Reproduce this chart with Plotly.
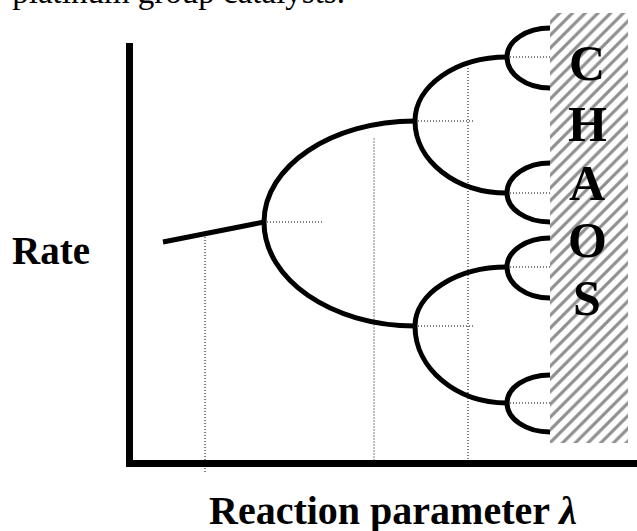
import plotly.graph_objects as go

W, H = 637, 531

# ---- data (lambda = reaction parameter, rate) ----
# stable branch before the first period doubling
branch0_lam = [0.67, 2.69]
branch0_rate = [4.43, 4.83]

# bifurcation points (lambda, rate) and where their two branches end
bif_lam = [2.69, 5.71, 5.71, 7.55, 7.55, 7.55, 7.55]
bif_rate = [4.83, 6.85, 2.75, 8.13, 5.41, 3.93, 1.21]
branch_end_lam = [5.71, 7.55, 7.55, 8.41, 8.41, 8.41, 8.41]
upper_end_rate = [6.85, 8.13, 3.93, 8.71, 6.01, 4.51, 1.77]
lower_end_rate = [2.75, 5.41, 1.21, 7.51, 4.83, 3.31, 0.63]
# dotted guide from each bifurcation point (end lambda)
guide_end_lam = [3.87, 6.87, 6.87, 8.41, 8.41, 8.41, 8.41]

# vertical dotted markers on the lambda axis
marker_lam = [1.51, 4.89, 6.77]
marker_top = [4.53, 6.50, 7.91]
marker_bottom = [-0.17, 0.03, 0.03]

# chaotic region
chaos_lam = [8.41, 9.97]
chaos_rate = [0.41, 9.01]
chaos_letters = ["C", "H", "A", "O", "S"]
chaos_letter_rate = [8.01, 6.79, 5.61, 4.47, 3.31]
chaos_letter_lam = 9.15

# axes frame
axis_lam_max = 10.15
axis_rate_max = 8.41

X_RANGE = [-2.59, 10.15]
Y_RANGE = [-1.35, 9.27]

SERIF = "Liberation Serif, Times New Roman, serif"

fig = go.Figure()
shapes = []

def line_shape(x0, y0, x1, y1, width, dash=None, layer="below"):
    d = dict(type="line", xref="x", yref="y", x0=x0, y0=y0, x1=x1, y1=y1,
             line=dict(color="black", width=width), layer=layer)
    if dash:
        d["line"]["dash"] = dash
    return d

DOT = "1px,2px"

# dotted guides
for lx, lt, lb in zip(marker_lam, marker_top, marker_bottom):
    shapes.append(line_shape(lx, lt, lx, lb, 1, DOT))
for bx, by, gx in zip(bif_lam, bif_rate, guide_end_lam):
    shapes.append(line_shape(bx, by, gx, by, 1, DOT))

# main branch
shapes.append(line_shape(branch0_lam[0], branch0_rate[0], branch0_lam[1], branch0_rate[1], 5))

# period-doubling arcs (quarter-ellipse shaped cubic Beziers)
K = 0.5523
for bx, by, ex, yu, yl in zip(bif_lam, bif_rate, branch_end_lam, upper_end_rate, lower_end_rate):
    for ey in (yu, yl):
        dx = ex - bx
        dy = ey - by
        path = (f"M {bx},{by} C {bx},{by + K * dy} {ex - K * dx},{ey} {ex},{ey}")
        shapes.append(dict(type="path", xref="x", yref="y", path=path,
                           line=dict(color="black", width=5), layer="below"))

# axis frame (L shape)
shapes.append(line_shape(0, axis_rate_max, 0, -0.07, 7))
shapes.append(line_shape(-0.07, 0, axis_lam_max, 0, 7))

# hatched chaos region
fig.add_trace(go.Scatter(
    x=[chaos_lam[0], chaos_lam[1], chaos_lam[1], chaos_lam[0], chaos_lam[0]],
    y=[chaos_rate[0], chaos_rate[0], chaos_rate[1], chaos_rate[1], chaos_rate[0]],
    mode="lines", fill="toself", fillcolor="white",
    fillpattern=dict(shape="/", fgcolor="#8f8f8f", bgcolor="white",
                     size=9, solidity=0.35, fillmode="replace"),
    line=dict(width=0, color="rgba(0,0,0,0)"),
    hoverinfo="skip", showlegend=False))

annotations = []
for letter, ry in zip(chaos_letters, chaos_letter_rate):
    annotations.append(dict(x=chaos_letter_lam, y=ry, xref="x", yref="y",
                            text=f"<b>{letter}</b>", showarrow=False,
                            xanchor="center", yanchor="middle",
                            font=dict(family=SERIF, size=50, color="black")))

def px(x):
    return x / W

def py(y):
    return 1 - y / H

annotations.append(dict(x=px(51), y=py(250), xref="paper", yref="paper",
                        text="<b>Rate</b>", showarrow=False,
                        xanchor="center", yanchor="middle",
                        font=dict(family=SERIF, size=39, color="black")))
annotations.append(dict(x=px(393), y=py(510), xref="paper", yref="paper",
                        text="<b>Reaction parameter <i>λ</i></b>", showarrow=False,
                        xanchor="center", yanchor="middle",
                        font=dict(family=SERIF, size=40, color="black")))
annotations.append(dict(x=px(347), y=py(12), xref="paper", yref="paper",
                        text="by platinum group catalysts.", showarrow=False,
                        xanchor="right", yanchor="bottom",
                        font=dict(family=SERIF, size=33, color="black")))

fig.update_layout(
    width=W, height=H,
    margin=dict(l=0, r=0, t=0, b=0, pad=0),
    paper_bgcolor="white", plot_bgcolor="white",
    xaxis=dict(range=X_RANGE, visible=False, fixedrange=True),
    yaxis=dict(range=Y_RANGE, visible=False, fixedrange=True),
    shapes=shapes, annotations=annotations, showlegend=False,
)

fig.write_html(
    "out.html",
    config={"displayModeBar": False, "staticPlot": True},
    post_script="document.body.style.margin='0';document.body.style.padding='0';"
                "document.body.style.overflow='hidden';",
)
